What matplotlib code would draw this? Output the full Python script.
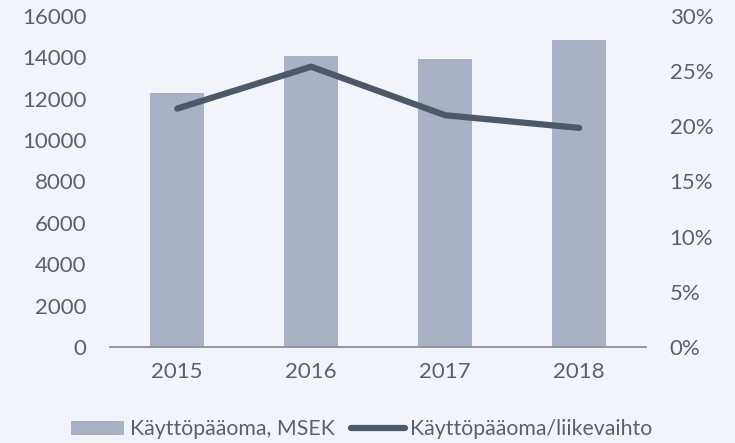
import matplotlib
matplotlib.use("Agg")
import matplotlib.pyplot as plt

years = ["2015", "2016", "2017", "2018"]
kayttopaaoma = [12280, 14070, 13920, 14840]
suhde = [21.6, 25.4, 21.0, 19.85]

bg = "#f3f4f9"
bar_color = "#aab1c4"
line_color = "#4d596b"
text_color = "#59616f"

plt.rcParams["font.family"] = ["Lato", "DejaVu Sans"]
plt.rcParams["font.size"] = 16

fig = plt.figure(figsize=(7.35, 4.43), dpi=100, facecolor=bg)
ax = fig.add_axes([0.15, 0.217, 0.729, 0.747])
ax.set_facecolor(bg)

x = range(len(years))
bars = ax.bar(x, kayttopaaoma, width=0.4, color=bar_color, label="Käyttöpääoma, MSEK", zorder=2)
ax.set_xlim(-0.5, 3.5)
ax.set_ylim(0, 16000)
ax.set_yticks(range(0, 16001, 2000))
ax.set_xticks(list(x))
ax.set_xticklabels(years)

ax2 = ax.twinx()
line, = ax2.plot(list(x), suhde, color=line_color, linewidth=4.5,
                 solid_capstyle="round", solid_joinstyle="round",
                 label="Käyttöpääoma/liikevaihto", zorder=3)
ax2.set_ylim(0, 30)
ax2.set_yticks(range(0, 31, 5))
ax2.set_yticklabels([f"{v}%" for v in range(0, 31, 5)])

for a in (ax, ax2):
    for s in a.spines.values():
        s.set_visible(False)
    a.tick_params(length=0, colors=text_color, labelsize=16)
ax.spines["bottom"].set_visible(True)
ax.spines["bottom"].set_color("#8a9099")
ax.spines["bottom"].set_linewidth(1.3)
ax.tick_params(axis="y", pad=17)
ax.tick_params(axis="x", pad=11)
ax2.tick_params(axis="y", pad=17)

fig.legend([bars, line], ["Käyttöpääoma, MSEK", "Käyttöpääoma/liikevaihto"],
           loc="lower center", bbox_to_anchor=(0.492, -0.035), ncol=2, frameon=False,
           fontsize=15.3, labelcolor=text_color, handlelength=2.5, handletextpad=0.25,
           columnspacing=0.8, handleheight=0.6)

fig.savefig("out.png", dpi=100, facecolor=bg)
